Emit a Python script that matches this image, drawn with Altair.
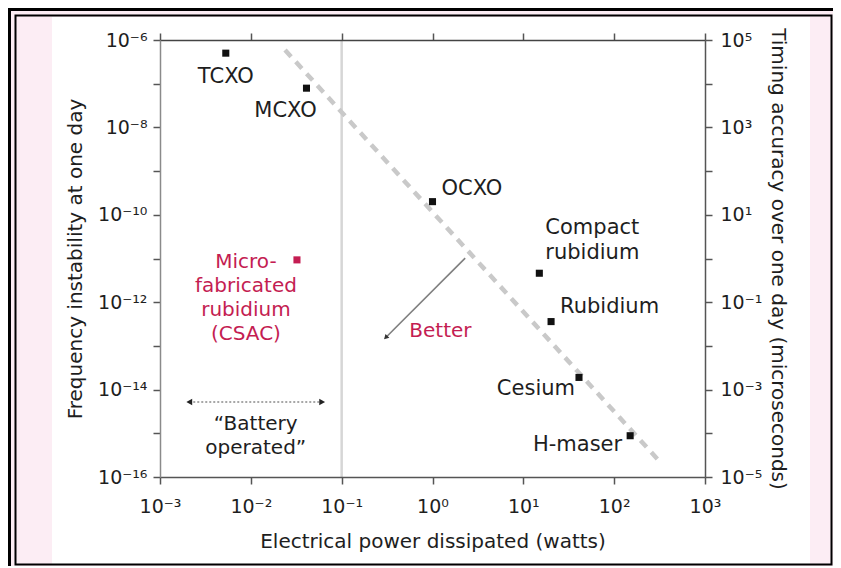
import altair as alt
import pandas as pd

# ---------------- data ----------------
names = ["TCXO", "MCXO", "OCXO", "Compact rubidium", "Rubidium", "Cesium", "H-maser"]
label_lines = [["TCXO"], ["MCXO"], ["OCXO"], ["Compact", "rubidium"], ["Rubidium"], ["Cesium"], ["H-maser"]]
power_w = [0.0053, 0.041, 1.0, 15.0, 20.2, 41.0, 150.0]
instability = [5.0e-7, 7.9e-8, 2.0e-10, 4.6e-12, 3.6e-13, 1.9e-14, 8.8e-16]

csac_lines = ["Micro-", "fabricated", "rubidium", "(CSAC)"]
csac_power = [0.0322]
csac_instab = [9.3e-12]

trend_power = [0.0238, 321.0]
trend_instab = [5.9e-7, 2.2e-16]

better_power = [2.29, 0.31]
better_instab = [1.02e-11, 1.6e-13]
better_text = "Better"

battery_power = [0.0021, 0.061]
battery_instab = [5.2e-15]
battery_lines = ["\u201cBattery", "operated\u201d"]

divider_power = [0.1]

x_exps = [-3, -2, -1, 0, 1, 2, 3]
x_labels = ["10⁻³", "10⁻²", "10⁻¹", "10⁰", "10¹", "10²", "10³"]
y_exps = [-16, -15, -14, -13, -12, -11, -10, -9, -8, -7, -6]
y_left_labels = ["10⁻¹⁶", "", "10⁻¹⁴", "", "10⁻¹²", "", "10⁻¹⁰", "", "10⁻⁸", "", "10⁻⁶"]
y_right_labels = ["10⁻⁵", "", "10⁻³", "", "10⁻¹", "", "10¹", "", "10³", "", "10⁵"]

x_ticks = [10.0 ** e for e in x_exps]
y_ticks = [10.0 ** e for e in y_exps]


def label_expr(exps, labels):
    expr = "''"
    for e, l in reversed(list(zip(exps, labels))):
        expr = f"round(log(datum.value)/LN10) == {e} ? '{l}' : ({expr})"
    return expr


FONT = "DejaVu Sans"
RED = "#c41d52"
INK = "#1e1e1e"

xs = alt.Scale(type="log", domain=[1e-3, 1e3], nice=False)
ys = alt.Scale(type="log", domain=[1e-16, 1e-6], nice=False)

W, H = 545, 437
PAD = {"left": 152, "top": 32, "right": 128, "bottom": 89}

one = pd.DataFrame({"d": [0]})

# ---------------- decorations (frame) ----------------
white_bg = alt.Chart(one).mark_rect(color="white").encode(
    x=alt.value(-108), x2=alt.value(650), y=alt.value(-23), y2=alt.value(524)
)
thick_top = alt.Chart(one).mark_rect(color="black").encode(
    x=alt.value(-152), x2=alt.value(673), y=alt.value(-32), y2=alt.value(-29)
)
thick_left = alt.Chart(one).mark_rect(color="black").encode(
    x=alt.value(-152), x2=alt.value(-149), y=alt.value(-32), y2=alt.value(526)
)
thin_frame = alt.Chart(one).mark_rect(fillOpacity=0, stroke="black", strokeWidth=2).encode(
    x=alt.value(-144.5), x2=alt.value(671.5), y=alt.value(-24.5), y2=alt.value(524.5)
)

# ---------------- data layers ----------------
divider = alt.Chart(pd.DataFrame({"p": divider_power})).mark_rule(
    color="#d6d6d6", strokeWidth=2.5
).encode(x=alt.X("p:Q", scale=xs, axis=None))

trend = alt.Chart(pd.DataFrame({"p": trend_power, "f": trend_instab, "o": [0, 1]})).mark_line(
    color="#c9c9c9", strokeWidth=4.5, strokeDash=[9, 7]
).encode(
    x=alt.X("p:Q", scale=xs, axis=None),
    y=alt.Y("f:Q", scale=ys, axis=None),
    order="o:Q",
)

better_df = pd.DataFrame({
    "p": [better_power[0]], "p2": [better_power[1]],
    "f": [better_instab[0]], "f2": [better_instab[1]],
})
better_line = alt.Chart(better_df).mark_rule(color="#808080", strokeWidth=1.6).encode(
    x=alt.X("p:Q", scale=xs, axis=None), x2="p2:Q",
    y=alt.Y("f:Q", scale=ys, axis=None), y2="f2:Q",
)
better_end = pd.DataFrame({"p": [better_power[1]], "f": [better_instab[1]], "t": [better_text]})
better_head = alt.Chart(better_end).mark_point(
    shape="triangle", angle=225, filled=True, size=30, color="#333", opacity=1
).encode(x=alt.X("p:Q", scale=xs, axis=None), y=alt.Y("f:Q", scale=ys, axis=None))
better_lbl = alt.Chart(better_end).mark_text(
    font=FONT, fontSize=20, color=RED, align="left", baseline="middle", dx=23, dy=-6
).encode(x=alt.X("p:Q", scale=xs, axis=None), y=alt.Y("f:Q", scale=ys, axis=None), text="t:N")

bat_df = pd.DataFrame({"p": [battery_power[0]], "p2": [battery_power[1]], "f": battery_instab})
bat_line = alt.Chart(bat_df).mark_rule(color="#8a8a8a", strokeWidth=1.5, strokeDash=[2, 2]).encode(
    x=alt.X("p:Q", scale=xs, axis=None), x2="p2:Q", y=alt.Y("f:Q", scale=ys, axis=None)
)
bat_heads = []
for pw, shp in zip(battery_power, ["triangle-left", "triangle-right"]):
    bat_heads.append(
        alt.Chart(pd.DataFrame({"p": [pw], "f": battery_instab})).mark_point(
            shape=shp, filled=True, size=45, color="#222", opacity=1
        ).encode(x=alt.X("p:Q", scale=xs, axis=None), y=alt.Y("f:Q", scale=ys, axis=None))
    )
bat_mid = (battery_power[0] * battery_power[1]) ** 0.5
bat_texts = []
for i, line in enumerate(battery_lines):
    bat_texts.append(
        alt.Chart(pd.DataFrame({"p": [bat_mid], "f": battery_instab, "t": [line]})).mark_text(
            font=FONT, fontSize=20, color=INK, align="center", baseline="middle", dy=22 + 24 * i
        ).encode(x=alt.X("p:Q", scale=xs, axis=None), y=alt.Y("f:Q", scale=ys, axis=None), text="t:N")
    )

pts = pd.DataFrame({"name": names, "p": power_w, "f": instability})

AX = dict(zindex=1, grid=False, labelFlush=False, labelOverlap=False, tickSize=7,
          tickColor="#555", domainWidth=1.5, tickWidth=1.5)

points = alt.Chart(pts).mark_square(size=50, color="#111", opacity=1).encode(
    x=alt.X("p:Q", scale=xs, axis=alt.Axis(
        orient="bottom", values=x_ticks, labelExpr=label_expr(x_exps, x_labels),
        title="Electrical power dissipated (watts)", labelPadding=13, domainColor="#555",
        titleX=W / 2, titleY=64, titleAlign="center", titleBaseline="middle", titleAngle=0, **AX,
    )),
    y=alt.Y("f:Q", scale=ys, axis=alt.Axis(
        orient="left", values=y_ticks, labelExpr=label_expr(y_exps, y_left_labels),
        title="Frequency instability at one day", labelPadding=6, domainColor="#8a8a8a",
        titleX=-85, titleY=H / 2, titleAngle=270, titleAlign="center", titleBaseline="middle", **AX,
    )),
)

csac = pd.DataFrame({"p": csac_power, "f": csac_instab})
csac_pt = alt.Chart(csac).mark_square(size=50, color=RED, opacity=1).encode(
    x=alt.X("p:Q", scale=xs, axis=None), y=alt.Y("f:Q", scale=ys, axis=None)
)

axes2 = alt.Chart(pts).mark_point(opacity=0).encode(
    x=alt.X("p:Q", scale=xs, axis=alt.Axis(orient="top", values=x_ticks, labels=False, title=None,
                                           domainColor="#444", **AX)),
    y=alt.Y("f:Q", scale=ys, axis=alt.Axis(
        orient="right", values=y_ticks, labelExpr=label_expr(y_exps, y_right_labels),
        title="Timing accuracy over one day (microseconds)", labelPadding=8, domainColor="#555",
        titleX=72, titleY=H / 2, titleAngle=90, titleAlign="center", titleBaseline="middle", **AX,
    )),
)

# label styles: (align, dx, first dy)
label_style = {
    "TCXO": ("center", 0, 24),
    "MCXO": ("center", -21, 23),
    "OCXO": ("left", 9, -13),
    "Compact rubidium": ("left", 6, -45),
    "Rubidium": ("left", 9, -15),
    "Cesium": ("right", -4, 12),
    "H-maser": ("right", -8, 9),
}
texts = []
for nm, lines, pw, fi in zip(names, label_lines, power_w, instability):
    al, dx, dy0 = label_style[nm]
    for i, line in enumerate(lines):
        texts.append(
            alt.Chart(pd.DataFrame({"p": [pw], "f": [fi], "t": [line]})).mark_text(
                font=FONT, fontSize=21, color=INK, align=al, baseline="middle", dx=dx, dy=dy0 + 25 * i
            ).encode(x=alt.X("p:Q", scale=xs, axis=None), y=alt.Y("f:Q", scale=ys, axis=None), text="t:N")
        )
for i, line in enumerate(csac_lines):
    texts.append(
        alt.Chart(pd.DataFrame({"p": csac_power, "f": csac_instab, "t": [line]})).mark_text(
            font=FONT, fontSize=20, color=RED, align="center", baseline="middle", dx=-51, dy=2 + 24 * i
        ).encode(x=alt.X("p:Q", scale=xs, axis=None), y=alt.Y("f:Q", scale=ys, axis=None), text="t:N")
    )

chart = alt.layer(
    white_bg, thick_top, thick_left, thin_frame,
    divider, trend, better_line, better_head, better_lbl,
    bat_line, *bat_heads, *bat_texts,
    points, csac_pt, axes2, *texts,
).resolve_axis(
    x="independent", y="independent"
).properties(
    width=W, height=H, autosize="none", padding=PAD, background="#fcedf4"
).configure_view(
    strokeWidth=0
).configure_axis(
    labelFont=FONT, titleFont=FONT, labelFontSize=19, titleFontSize=20,
    titleFontWeight="normal", labelColor=INK, titleColor=INK,
)

chart.save("out.html", embed_options={"renderer": "svg", "actions": False})
